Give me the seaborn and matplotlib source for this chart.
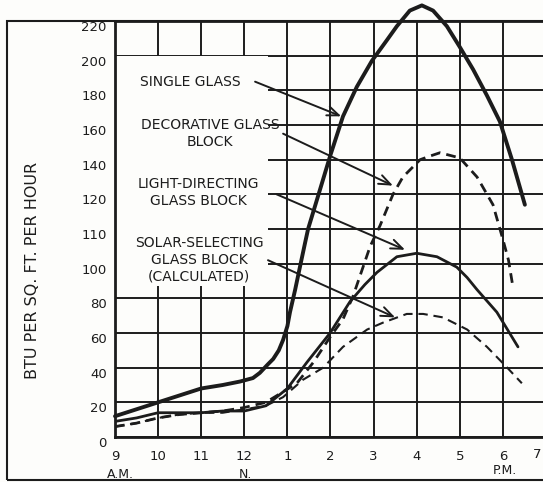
import numpy as np
import pandas as pd
import matplotlib
import matplotlib.pyplot as plt
import seaborn as sns
from matplotlib.patches import Rectangle

# readings: hour of day (9 = 9 A.M., 13 = 1 P.M.) and BTU per sq. ft. per hour
single_hours = [9.0, 9.5, 10.0, 10.5, 11.0, 11.5, 11.9, 12.2, 12.36, 12.55, 12.67, 12.8, 12.9,
                13.0, 13.06, 13.18, 13.29, 13.41, 13.48, 13.76, 13.99, 14.29, 14.61, 14.96,
                15.31, 15.54, 15.84, 16.12, 16.38, 16.7, 17.0, 17.31, 17.63, 17.93, 18.21, 18.51]
single_btu = [12, 16, 20, 24, 28, 30, 32, 34, 37, 42, 45, 50, 56,
              64, 72, 85, 98, 106, 110, 123, 142, 165, 182, 197,
              209, 217, 226, 229, 226, 217, 205, 192, 177, 162, 140, 117]

deco_hours = [9.0, 9.5, 10.0, 10.5, 11.0, 11.5, 12.0, 12.5, 12.83, 13.22, 13.6, 14.0, 14.29,
              14.52, 14.92, 15.15, 15.45, 15.68, 16.08, 16.3, 16.54, 17.0, 17.4, 17.77, 18.0,
              18.13, 18.23]
deco_btu = [6, 8, 11, 13, 14, 15, 17, 20, 25, 31, 43, 58, 68,
            81, 105, 111, 120, 130, 140, 142, 144, 141, 130, 117, 107,
            101, 87]

light_hours = [9.0, 9.5, 10.0, 10.5, 11.0, 11.5, 12.0, 12.5, 13.0, 13.45, 13.99, 14.45, 14.8,
               15.08, 15.54, 16.0, 16.47, 16.93, 17.17, 17.4, 17.86, 18.35]
light_btu = [9, 11, 14, 14, 14, 15, 15, 18, 28, 43, 60, 78, 88,
             95, 102, 103, 102, 98, 92, 85, 72, 52]

solar_hours = [9.0, 9.5, 10.0, 10.5, 11.0, 11.5, 12.0, 12.5, 12.9, 13.36, 13.83, 14.29, 14.85,
               15.22, 15.77, 16.15, 16.61, 17.17, 17.63, 18.1, 18.44]
solar_btu = [6, 8, 11, 13, 14, 14, 16, 18, 23, 33, 40, 52, 62,
             66, 71, 71, 69, 62, 52, 40, 31]

y_ticks = [0, 20, 40, 60, 80, 100, 110, 120, 140, 160, 180, 200, 220]
x_ticks = [9, 10, 11, 12, 13, 14, 15, 16, 17, 18]
x_labels = ['9', '10', '11', '12', '1', '2', '3', '4', '5', '6']

ink = '#1c1c1c'
paper = '#fdfdfb'


# the printed scale is not linear: 100, 110, 120 sit one grid row apart
def fwd(v):
    v = np.asarray(v, dtype=float)
    return np.where(v <= 100, v / 20, np.where(v <= 120, 5 + (v - 100) / 10, 7 + (v - 120) / 20))


def inv(u):
    u = np.asarray(u, dtype=float)
    return np.where(u <= 5, u * 20, np.where(u <= 7, 100 + (u - 5) * 10, 120 + (u - 7) * 20))


sns.set_theme(style='white')
plt.rcParams['font.family'] = ['DejaVu Sans']

fig = plt.figure(figsize=(5.43, 4.82), dpi=100, facecolor=paper)
ax = fig.add_axes([115 / 543, 1 - 437 / 482, (546 - 115) / 543, (437 - 21) / 482])
ax.set_facecolor(paper)
ax.set_yscale('function', functions=(fwd, inv))
ax.set_xlim(9, 19)
ax.set_ylim(0, 220)

# grid drawn by hand so the label box can sit over it
ax.hlines(y_ticks, 9, 19, colors=ink, lw=1.4, zorder=0.6)
ax.vlines(x_ticks, 0, 220, colors=ink, lw=1.4, zorder=0.6)
ax.add_patch(Rectangle((9, 87), 3.55, 113, facecolor=paper, edgecolor='none', zorder=1))

df = pd.DataFrame({'hour': single_hours, 'btu': single_btu})
sns.lineplot(data=df, x='hour', y='btu', ax=ax, color=ink, lw=2.8, sort=False,
             estimator=None, clip_on=False, zorder=3)

df = pd.DataFrame({'hour': deco_hours, 'btu': deco_btu})
sns.lineplot(data=df, x='hour', y='btu', ax=ax, color=ink, lw=2.0, sort=False,
             estimator=None, zorder=3)
ax.lines[-1].set_dashes((3.5, 2.2))

df = pd.DataFrame({'hour': light_hours, 'btu': light_btu})
sns.lineplot(data=df, x='hour', y='btu', ax=ax, color=ink, lw=2.0, sort=False,
             estimator=None, zorder=3)

df = pd.DataFrame({'hour': solar_hours, 'btu': solar_btu})
sns.lineplot(data=df, x='hour', y='btu', ax=ax, color=ink, lw=1.5, sort=False,
             estimator=None, zorder=3)
ax.lines[-1].set_dashes((4.5, 2.8))

for ln in ax.lines:
    ln.set_solid_joinstyle('round')
    ln.set_dash_joinstyle('round')

ax.set_xlabel('')
ax.set_ylabel('')
ax.set_xticks(x_ticks, x_labels)
ax.set_yticks(y_ticks, [str(v) for v in y_ticks])
ax.tick_params(axis='x', length=0, pad=9, labelsize=9.5, labelcolor=ink)
ax.tick_params(axis='y', direction='in', length=9.5, width=1.4, color=ink, pad=6,
               labelsize=9.5, labelcolor=ink)
for lab in ax.get_yticklabels():
    lab.set_verticalalignment('top')

for side in ['left', 'bottom', 'top']:
    ax.spines[side].set_color(ink)
    ax.spines[side].set_linewidth(2.0)
ax.spines['right'].set_visible(False)

# curve labels and arrows
txt = dict(ha='center', va='center', fontsize=10, color=ink, multialignment='center',
           zorder=4, linespacing=1.25)
ax.text(10.74, 185, 'SINGLE GLASS', **txt)
ax.text(11.2, 155, 'DECORATIVE GLASS\nBLOCK', **txt)
ax.text(10.93, 121, 'LIGHT-DIRECTING\nGLASS BLOCK', **txt)
ax.text(10.95, 101, 'SOLAR-SELECTING\nGLASS BLOCK\n(CALCULATED)', **txt)

arrow = dict(arrowstyle='->,head_length=0.7,head_width=0.28', lw=1.4, color=ink,
             shrinkA=0, shrinkB=0)
ax.annotate('', xy=(14.25, 165), xytext=(12.25, 185), arrowprops=arrow)
ax.annotate('', xy=(15.45, 125), xytext=(12.9, 155), arrowprops=arrow)
ax.annotate('', xy=(15.73, 104), xytext=(12.75, 120), arrowprops=arrow)
ax.annotate('', xy=(15.5, 69), xytext=(12.55, 101), arrowprops=arrow)

xt = ax.get_xaxis_transform()
ax.text(18.79, -0.041, '7', transform=xt, ha='center', va='center', fontsize=9.5, color=ink)
ax.text(9.12, -0.089, 'A.M.', transform=xt, ha='center', va='center', fontsize=9, color=ink)
ax.text(12.02, -0.089, 'N.', transform=xt, ha='center', va='center', fontsize=9, color=ink)
ax.text(18.05, -0.08, 'P.M.', transform=xt, ha='center', va='center', fontsize=9, color=ink)

fig.text(33 / 543, 1 - 270 / 482, 'BTU PER SQ. FT. PER HOUR', rotation=90,
         ha='center', va='center', fontsize=11.5, color=ink)

# outer frame of the printed figure
fig.add_artist(Rectangle((7 / 543, 2 / 482), 1.2, (480 - 21) / 482, transform=fig.transFigure,
                         fill=False, edgecolor=ink, lw=1.5))

fig.savefig('out.png', dpi=100, facecolor=paper)
